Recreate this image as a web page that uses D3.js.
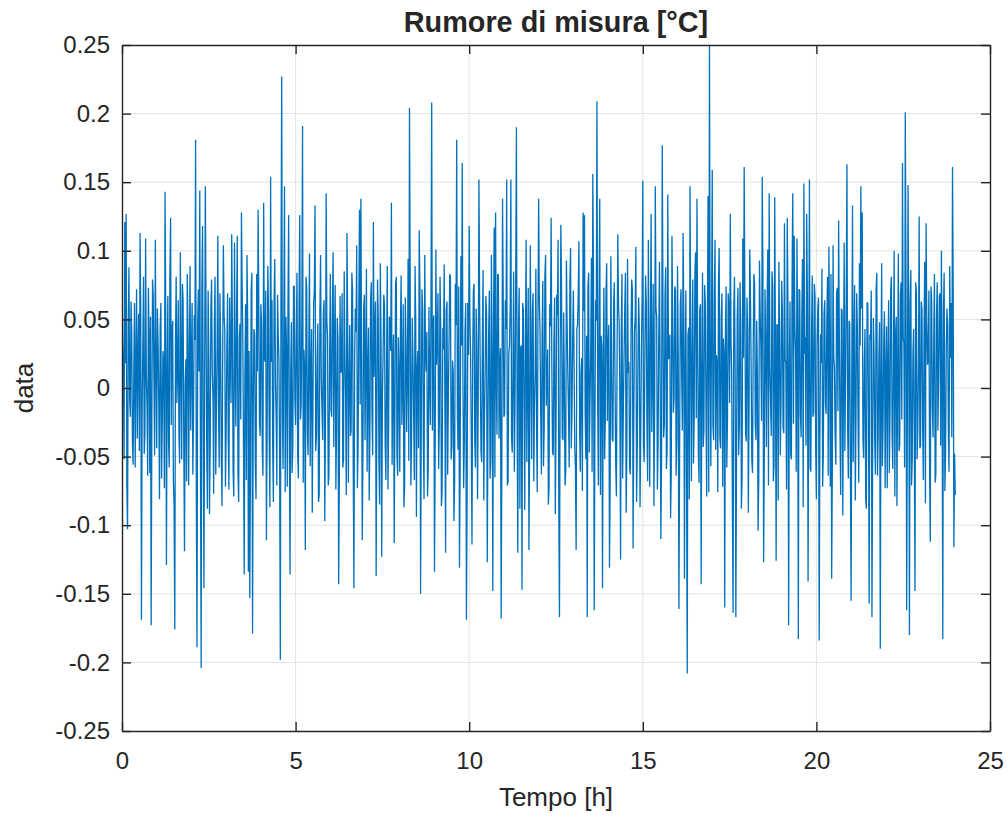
<!DOCTYPE html>
<html>
<head>
<meta charset="utf-8">
<script src="https://cdn.jsdelivr.net/npm/d3@7"></script>
<style>
  html, body { margin: 0; padding: 0; background: #ffffff; }
  svg { display: block; }
  text { font-family: "Liberation Sans", Arial, Helvetica, sans-serif; fill: #262626; }
</style>
</head>
<body>
<svg id="chart" width="1007" height="816"></svg>
<script>
// ---- data ----
const chartTitle = "Rumore di misura [°C]";
const xLabel = "Tempo [h]";
const yLabel = "data";
const sampleStepHours = 0.04; // main samples; a second set lies half-way between them
const xTicks = [0, 5, 10, 15, 20, 25];
const xTickLabels = ["0", "5", "10", "15", "20", "25"];
const yTicks = [-0.25, -0.2, -0.15, -0.1, -0.05, 0, 0.05, 0.1, 0.15, 0.2, 0.25];
const yTickLabels = ["-0.25", "-0.2", "-0.15", "-0.1", "-0.05", "0", "0.05", "0.1", "0.15", "0.2", "0.25"];

// measurement noise [°C] at the main samples, one row per hour
const noiseHour00_05 = [
  .082,.015,.121,.127,-.103,.088,-.021,.041,-.056,.062,.018,-.037,.054,.113,-.169,.029,-.048,.109,-.012,.073,-.062,-.173,.079,.006,.108,
  -.044,.031,-.081,.062,-.025,.018,.143,-.129,.067,-.058,.124,.041,-.068,-.176,.081,.012,-.034,.099,-.052,.064,-.119,.021,.083,-.071,.089,
  .024,-.063,.053,.181,-.189,.072,.144,-.204,.118,-.146,.147,-.041,.071,-.092,.058,.012,-.077,.081,-.015,.111,-.058,.036,-.086,.104,.042,
  -.032,.069,-.074,.026,.112,-.061,.106,-.028,.111,-.083,.047,.128,.035,-.136,.061,.097,-.134,-.153,.071,-.179,.043,-.057,.083,.13,-.026,
  .061,-.045,.135,.019,-.111,.089,-.038,.154,.064,-.083,.094,-.021,.068,.021,-.198,.227,-.059,.147,.052,-.072,.126,-.136,.048,-.044,.074,
  -.027,.084,-.066,.126,-.012,.191,.028,-.118,.074,-.049,.098,.009,-.091,.061,.133,-.035,.047,-.078,.097,-.016,.055,-.097,.142,.038,-.064
];
const noiseHour06_11 = [
  .083,-.021,.099,.034,-.074,.051,-.143,.067,.013,-.058,.085,-.007,.113,-.069,.046,-.031,.072,-.146,.058,.104,-.043,.13,.138,-.111,.057,
  -.038,.087,.011,-.082,.064,-.019,.121,.041,-.137,.079,-.053,.091,-.123,.025,.061,-.067,.089,-.026,.048,.135,.017,-.113,.076,-.049,.037,
  -.061,.082,.004,-.087,.066,-.032,.094,.204,-.071,.051,-.018,.089,-.094,.027,.115,-.15,.072,-.041,.097,.012,-.079,.059,-.027,.208,.047,
  -.134,.101,.034,-.059,.081,-.086,.044,.09,-.12,.063,-.004,.083,-.052,.02,-.097,.076,.181,-.045,-.131,.096,.164,-.073,.042,-.169,.062,
  .118,.026,-.114,.071,-.038,.058,-.081,.152,.009,-.054,.086,-.023,.067,-.127,.039,-.066,.097,-.148,.117,.128,-.034,.082,.019,-.168,.138,
  -.021,.064,.152,-.068,.031,.152,-.047,.085,-.01,.19,-.12,.073,.029,-.147,.057,-.089,.108,.016,-.118,.104,-.052,.069,-.013,.087,-.076
];
const noiseHour12_17 = [
  .138,.041,-.063,.078,-.029,.097,.007,-.085,.061,.124,-.047,.033,-.092,.068,.108,-.167,.119,-.036,.055,-.071,.093,.011,-.058,.102,-.019,
  .071,-.043,-.118,.046,.107,-.061,.022,.128,.126,-.052,-.167,.084,-.009,.095,.156,-.162,.064,.209,-.071,.138,.038,-.146,.073,-.024,.091,
  .028,-.131,.096,-.037,.061,.004,-.079,.112,.047,-.125,.083,-.014,.057,-.091,.094,.019,-.063,.079,-.117,.041,.103,-.048,.066,-.087,.027,
  .151,-.054,.082,-.029,.108,-.072,.127,.013,-.086,.147,.052,-.041,.092,-.11,.177,-.036,.068,-.059,.141,.024,-.095,.111,-.018,.074,-.064,
  .089,-.161,.061,.009,.113,-.139,.071,-.208,.044,.147,-.068,.079,-.022,.099,.138,-.046,.057,-.143,.084,-.031,.062,-.079,.14,.25,-.057,
  .159,-.038,.108,.024,-.076,.102,-.044,.069,.036,-.16,.074,-.021,.058,.127,.012,-.164,.081,-.167,.052,-.049,.077,-.088,.109,.161,-.033
];
const noiseHour18_24 = [
  .066,-.091,.101,.017,-.062,.083,-.027,.049,-.104,.093,.031,.154,-.127,.072,-.043,.101,.142,-.011,.085,-.068,.139,-.126,.046,.092,-.049,
  .078,-.029,.12,.018,.124,-.173,.063,-.052,.142,.111,.028,.109,-.183,.071,-.036,.094,.149,.037,.127,-.141,.152,-.061,.082,-.018,.067,
  -.081,.058,-.184,.039,.087,-.047,.064,-.019,.081,.103,-.072,-.139,.104,.015,-.056,.073,.122,-.034,.058,-.093,.106,.009,.163,-.066,.047,
  -.155,.133,.026,-.082,.069,-.024,.091,.147,.128,-.051,.043,-.088,.062,-.157,.035,-.167,.051,-.038,.072,-.064,.023,-.19,.091,-.027,.056,
  .011,-.073,.064,-.018,.081,-.059,.1,.038,-.086,.098,-.041,.077,.164,.033,.201,-.162,.148,-.18,.086,-.052,.043,-.148,.069,-.031,.125,
  -.042,.058,-.067,.092,.12,.017,.071,-.112,.064,-.036,.083,-.063,.077,.008,.069,.1,-.183,.084,-.047,.058,-.029,.089,.062,.161,-.116,
  -.078
];

// measurement noise [°C] at the in-between samples (dense core of the trace), one row per hour
const noiseMid00_11 = [
  .034,-.052,.018,-.071,.046,-.008,.063,-.039,.011,-.058,.072,.024,-.046,.055,-.017,.081,-.033,.009,-.064,.038,.052,-.021,.067,-.049,.015,
  .058,-.012,.044,-.066,.027,-.073,.051,.006,-.038,.083,-.027,.049,-.085,.032,-.011,.064,-.055,.021,.076,-.043,.003,-.068,.041,.017,-.031,
  .062,-.019,.035,-.077,.048,.012,-.054,.071,-.025,.009,.057,-.088,.026,-.041,.079,-.006,.045,-.063,.032,-.015,.069,-.047,.021,.054,-.072,
  .029,-.036,.066,-.011,.042,-.079,.018,.053,-.061,.037,-.023,.075,-.044,.008,-.067,.049,.027,-.058,.084,-.014,.039,-.081,.012,.061,-.035,
  .047,-.064,.023,.071,-.029,.056,-.087,.019,-.042,.063,.005,-.071,.038,-.053,.086,-.018,.044,-.076,.028,.059,-.039,.013,-.062,.074,-.009,
  .036,-.048,.067,-.023,.052,-.069,.014,.081,-.034,.026,-.057,.043,-.011,.072,-.046,.018,-.083,.055,.007,-.038,.064,-.025,.049,-.071,.022,
  -.016,.058,-.043,.075,-.028,.037,-.066,.011,.069,-.052,.024,-.078,.046,.003,-.035,.084,-.059,.021,.041,-.073,.056,-.012,.031,-.047,.068,
  .019,-.061,.044,-.032,.077,-.049,.008,.063,-.022,.051,-.085,.034,-.006,.068,-.041,.015,-.074,.052,.027,-.056,.039,-.018,.081,-.064,.012,
  .045,-.027,.061,-.072,.033,.009,-.053,.078,-.036,.021,-.067,.049,.014,-.044,.073,-.019,.058,-.081,.026,.041,-.059,.007,.066,-.031,.053,
  -.048,.017,.069,-.024,.042,-.076,.028,-.011,.057,-.063,.035,.081,-.042,.012,-.069,.046,-.021,.074,-.055,.031,.005,-.038,.062,-.079,.024,
  .051,-.034,.018,.076,-.058,.027,-.007,.064,-.046,.039,-.082,.013,.055,-.029,.071,-.051,.022,.047,-.065,.008,.083,-.037,.029,-.054,.066,
  -.019,.043,-.071,.025,.058,-.036,.014,-.061,.079,-.023,.046,-.088,.031,.062,-.015,.037,-.054,.073,-.042,.019,.056,-.068,.011,-.027,.048
];
const noiseMid12_23 = [
  .064,-.021,.039,-.057,.082,-.013,.028,-.072,.045,.017,-.049,.066,-.031,.053,-.084,.022,.071,-.038,.006,-.062,.047,-.016,.078,-.044,.033,
  .021,-.058,.043,.067,-.029,.012,-.075,.056,-.018,.038,.074,-.047,.026,-.061,.083,-.034,.049,-.009,.062,-.078,.031,.015,-.052,.069,-.024,
  .046,-.071,.018,-.039,.077,-.055,.029,.061,-.013,.042,-.066,.023,.084,-.047,.011,-.058,.037,.072,-.026,.051,-.083,.019,.044,-.035,.065,
  -.041,.027,.063,-.068,.015,.049,-.032,.076,-.019,.058,-.074,.036,.004,-.051,.067,-.027,.088,-.045,.021,.039,-.062,.053,-.008,.071,-.037,
  .024,-.049,.072,-.031,.056,.012,-.063,.038,-.081,.045,.017,-.055,.083,-.022,.034,-.069,.061,.008,-.043,.075,-.014,.047,-.076,.029,.052,
  -.027,.064,-.045,.018,.079,-.036,.052,-.072,.026,.041,-.058,.069,-.011,.035,-.084,.057,.013,-.046,.073,-.029,.048,-.065,.022,.061,-.039,
  .043,-.016,.068,-.053,.029,.076,-.038,.011,-.067,.055,-.024,.084,-.047,.032,.059,-.071,.017,-.035,.074,-.056,.028,.046,-.082,.039,-.012,
  .057,-.033,.021,-.074,.063,.009,-.048,.081,-.026,.044,-.061,.036,.072,-.019,.053,-.087,.025,-.042,.067,.014,-.058,.038,-.021,.076,-.045,
  .031,.066,-.039,.018,-.072,.054,-.011,.047,-.064,.029,.083,-.052,.023,-.035,.069,-.017,.041,-.078,.056,.007,-.046,.073,-.028,.049,-.066,
  .012,-.054,.075,-.021,.043,-.069,.031,.058,-.037,.017,-.081,.062,-.014,.039,.071,-.049,.026,-.063,.084,-.032,.048,.006,-.057,.035,-.073,
  .045,.019,-.062,.071,-.034,.027,-.079,.052,.011,-.046,.068,-.023,.037,-.058,.081,-.015,.043,.062,-.071,.024,-.038,.077,-.052,.016,-.044,
  .063,-.027,.039,-.084,.048,.021,-.056,.074,-.013,.035,-.069,.052,-.031,.067,-.042,.014,.058,-.075,.029,.046,-.061,.022,-.036,.071,-.048
];

const noiseMain = [].concat(noiseHour00_05, noiseHour06_11, noiseHour12_17, noiseHour18_24);
const noiseMid = [].concat(noiseMid00_11, noiseMid12_23);
const series = [];
noiseMain.forEach((v, i) => {
  series.push({ t: i * sampleStepHours, v: v });
  if (i < noiseMid.length) series.push({ t: (i + 0.5) * sampleStepHours, v: noiseMid[i] });
});

// ---- layout ----
const svg = d3.select("#chart");
const plot = { left: 122, right: 990, top: 45, bottom: 731 };
const axisColor = "#262626";
const gridColor = "#e3e3e3";
const lineColor = "#0072BD";

const x = d3.scaleLinear().domain([0, 25]).range([plot.left, plot.right]);
const y = d3.scaleLinear().domain([-0.25, 0.25]).range([plot.bottom, plot.top]);

// grid
const grid = svg.append("g");
grid.selectAll("line.gx").data(xTicks.slice(1, -1)).enter().append("line")
  .attr("x1", d => x(d)).attr("x2", d => x(d))
  .attr("y1", plot.top).attr("y2", plot.bottom)
  .attr("stroke", gridColor).attr("stroke-width", 1);
grid.selectAll("line.gy").data(yTicks.slice(1, -1)).enter().append("line")
  .attr("x1", plot.left).attr("x2", plot.right)
  .attr("y1", d => y(d)).attr("y2", d => y(d))
  .attr("stroke", gridColor).attr("stroke-width", 1);

// clip
svg.append("clipPath").attr("id", "clip").append("rect")
  .attr("x", plot.left).attr("y", plot.top - 1)
  .attr("width", plot.right - plot.left).attr("height", plot.bottom - plot.top + 2);

// data line
const line = d3.line().x(d => x(d.t)).y(d => y(d.v));
svg.append("path").datum(series)
  .attr("clip-path", "url(#clip)")
  .attr("d", line)
  .attr("fill", "none")
  .attr("stroke", lineColor)
  .attr("stroke-width", 1.3)
  .attr("stroke-linejoin", "miter");

// axes
const tickFont = 24;
function styleAxis(g) {
  g.select(".domain").attr("stroke", axisColor).attr("stroke-width", 1.4);
  g.selectAll(".tick line").attr("stroke", axisColor).attr("stroke-width", 1.4);
  g.selectAll(".tick text").attr("fill", "#262626").style("font-size", tickFont + "px")
    .style("font-family", "'Liberation Sans', Arial, sans-serif");
}

const xAxis = d3.axisBottom(x).tickValues(xTicks)
  .tickFormat((d, i) => xTickLabels[i]).tickSizeInner(-9).tickSizeOuter(0).tickPadding(21);
svg.append("g").attr("transform", `translate(0,${plot.bottom})`).call(xAxis).call(styleAxis);

const xAxisTop = d3.axisTop(x).tickValues(xTicks).tickFormat("").tickSizeInner(-9).tickSizeOuter(0);
svg.append("g").attr("transform", `translate(0,${plot.top})`).call(xAxisTop).call(styleAxis);

const yAxis = d3.axisLeft(y).tickValues(yTicks)
  .tickFormat((d, i) => yTickLabels[i]).tickSizeInner(-9).tickSizeOuter(0).tickPadding(12);
svg.append("g").attr("transform", `translate(${plot.left},0)`).call(yAxis).call(styleAxis);

const yAxisRight = d3.axisRight(y).tickValues(yTicks).tickFormat("").tickSizeInner(-9).tickSizeOuter(0);
svg.append("g").attr("transform", `translate(${plot.right},0)`).call(yAxisRight).call(styleAxis);

// labels
svg.append("text").attr("x", (plot.left + plot.right) / 2).attr("y", 32)
  .attr("text-anchor", "middle").style("font-size", "28.8px").style("font-weight", "bold")
  .attr("fill", "#000").text(chartTitle);
svg.append("text").attr("x", (plot.left + plot.right) / 2).attr("y", 806)
  .attr("text-anchor", "middle").style("font-size", "26px").text(xLabel);
svg.append("text").attr("transform", `translate(33,${(plot.top + plot.bottom) / 2}) rotate(-90)`)
  .attr("text-anchor", "middle").style("font-size", "26px").text(yLabel);
</script>
</body>
</html>
